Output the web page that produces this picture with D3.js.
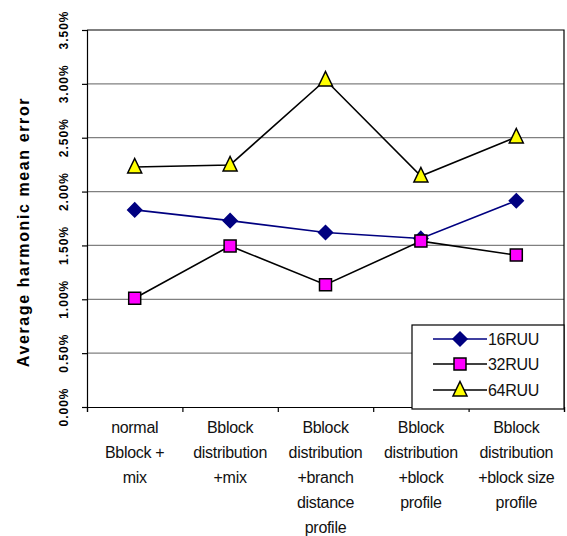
<!DOCTYPE html>
<html lang='en'>
<head>
<meta charset='utf-8'>
<title>Average harmonic mean error</title>
<script src='https://cdn.jsdelivr.net/npm/d3@7'></script>
<style>
  body { margin: 0; background: #fff; }
  text { font-family: 'Liberation Sans', Arial, sans-serif; }
</style>
</head>
<body>
<script>
// data
var categories = [
  ['normal', 'Bblock +', 'mix'],
  ['Bblock', 'distribution', '+mix'],
  ['Bblock', 'distribution', '+branch', 'distance', 'profile'],
  ['Bblock', 'distribution', '+block', 'profile'],
  ['Bblock', 'distribution', '+block size', 'profile']
];
var ruu16 = [1.83, 1.73, 1.62, 1.565, 1.915];
var ruu32 = [1.01, 1.495, 1.135, 1.54, 1.41];
var ruu64 = [2.228, 2.247, 3.036, 2.145, 2.507];
var seriesNames = ['16RUU', '32RUU', '64RUU'];
var yTicks = [0, 0.5, 1, 1.5, 2, 2.5, 3, 3.5];

var width = 567, height = 536;
var plotL = 87, plotR = 564, plotT = 30, plotB = 407;

var svg = d3.select('body').append('svg').attr('width', width).attr('height', height);

var x = d3.scaleBand().domain(d3.range(categories.length)).range([plotL, plotR]);
var y = d3.scaleLinear().domain([0, 3.5]).range([plotB, plotT]);

// gridlines
svg.append('g').selectAll('line').data(yTicks.slice(1, -1)).enter().append('line')
  .attr('x1', plotL).attr('x2', plotR)
  .attr('y1', d => y(d)).attr('y2', d => y(d))
  .attr('stroke', '#808080').attr('stroke-width', 1.2);

// plot border top + right
svg.append('path')
  .attr('d', 'M' + plotL + ',' + y(3.5) + 'H' + plotR + 'V' + plotB)
  .attr('fill', 'none').attr('stroke', '#000').attr('stroke-width', 1.2);

// y axis
var yAxis = svg.append('g').attr('transform', 'translate(' + plotL + ',0)')
  .call(d3.axisLeft(y).tickValues(yTicks).tickSize(5).tickFormat(''));
yAxis.selectAll('line, path').attr('stroke', '#000').attr('stroke-width', 1.2);

svg.append('g').selectAll('text').data(yTicks).enter().append('text')
  .attr('transform', d => 'translate(68,' + y(d) + ') rotate(-90)')
  .attr('text-anchor', 'middle')
  .attr('font-size', '12px').attr('font-weight', 'bold')
  .attr('letter-spacing', '1px')
  .text(d => d.toFixed(2) + '%');

// x axis
var xAxis = svg.append('g').attr('transform', 'translate(0,' + plotB + ')')
  .call(d3.axisBottom(d3.scaleLinear().domain([0, 5]).range([plotL, plotR]))
    .tickValues(d3.range(6)).tickSize(5).tickFormat(''));
xAxis.selectAll('line, path').attr('stroke', '#000').attr('stroke-width', 1.2);

var xl = svg.append('g').selectAll('text').data(categories).enter().append('text')
  .attr('text-anchor', 'middle')
  .attr('font-size', '16px')
  .attr('letter-spacing', '-0.3px')
  .attr('fill', '#111');
xl.selectAll('tspan').data((d, i) => d.map(t => [t, i])).enter().append('tspan')
  .attr('x', d => x(d[1]) + x.bandwidth() / 2)
  .attr('y', (d, j) => 433 + j * 25)
  .text(d => d[0]);

// axis title
svg.append('text')
  .attr('transform', 'translate(29,232) rotate(-90)')
  .attr('text-anchor', 'middle')
  .attr('font-size', '16px').attr('font-weight', 'bold')
  .attr('letter-spacing', '1.6px')
  .text('Average harmonic mean error');

var cx = i => x(i) + x.bandwidth() / 2;
var line = d3.line().x((d, i) => cx(i)).y(d => y(d));

var diamond = 'M0,-7L7,0L0,7L-7,0Z';
var square = 'M-6,-6H6V6H-6Z';
var triangle = 'M0,-8.5L7,6L-7,6Z';

var series = [
  { name: seriesNames[0], values: ruu16, stroke: '#000080', shape: diamond, fill: '#000080', mstroke: '#000080' },
  { name: seriesNames[1], values: ruu32, stroke: '#000', shape: square, fill: '#ff00ff', mstroke: '#000' },
  { name: seriesNames[2], values: ruu64, stroke: '#000', shape: triangle, fill: '#ffff00', mstroke: '#000' }
];

series.forEach(function(s) {
  svg.append('path').datum(s.values).attr('d', line)
    .attr('fill', 'none').attr('stroke', s.stroke).attr('stroke-width', 1.6);
});
series.forEach(function(s) {
  svg.append('g').selectAll('path').data(s.values).enter().append('path')
    .attr('transform', (d, i) => 'translate(' + cx(i) + ',' + y(d) + ')')
    .attr('d', s.shape)
    .attr('fill', s.fill).attr('stroke', s.mstroke).attr('stroke-width', 1.5);
});

// legend
var lg = svg.append('g');
lg.append('rect').attr('x', 412).attr('y', 325).attr('width', 152).attr('height', 84)
  .attr('fill', '#fff').attr('stroke', '#000').attr('stroke-width', 1.2);
var ly = [339, 364, 390];
series.forEach(function(s, i) {
  lg.append('line').attr('x1', 433).attr('x2', 487).attr('y1', ly[i]).attr('y2', ly[i])
    .attr('stroke', s.stroke).attr('stroke-width', 1.6);
  lg.append('path').attr('transform', 'translate(460,' + ly[i] + ')').attr('d', s.shape)
    .attr('fill', s.fill).attr('stroke', s.mstroke).attr('stroke-width', 1.5);
  lg.append('text').attr('x', 488).attr('y', ly[i] + 6)
    .attr('font-size', '16px').attr('letter-spacing', '-0.3px').attr('fill', '#111')
    .text(s.name);
});
</script>
</body>
</html>
